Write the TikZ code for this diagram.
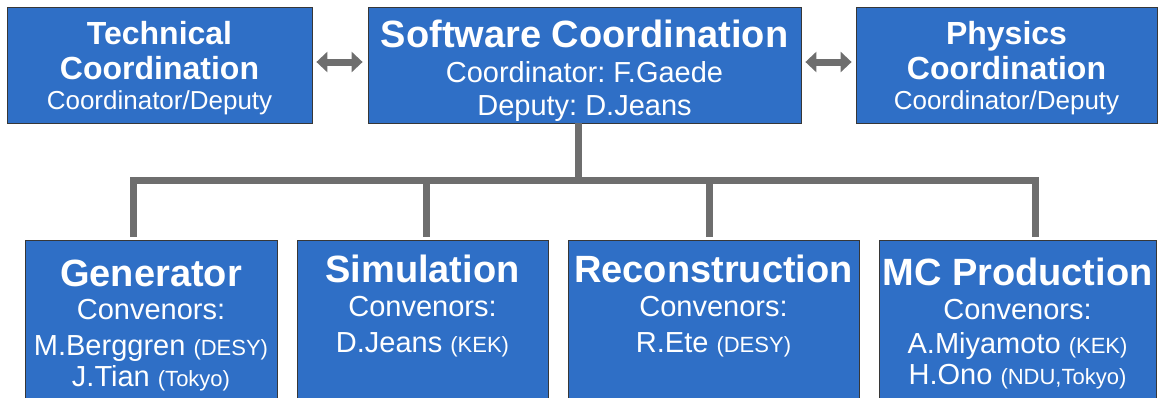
\documentclass[tikz,border=0pt]{standalone}
\usepackage{fontspec}
\setmainfont{Liberation Sans}
\usetikzlibrary{arrows.meta}
\definecolor{boxblue}{RGB}{47,111,198}
\definecolor{linegray}{RGB}{110,110,110}
\definecolor{boxedge}{RGB}{55,55,55}
\newcommand\aff[1]{{\fontsize{22}{24}\selectfont #1}}
\frenchspacing
\begin{document}
\begin{tikzpicture}[x=1pt,y=-1pt,
  box/.style={draw=boxedge, line width=0.8pt, fill=boxblue, inner sep=0pt},
  txt/.style={anchor=base, text=white, inner sep=0pt},
  ttl/.style={txt, font=\bfseries\fontsize{38}{40}\selectfont},
  ttls/.style={txt, font=\bfseries\fontsize{32}{34}\selectfont},
  sub/.style={txt, font=\fontsize{29}{31}\selectfont},
  subs/.style={txt, font=\fontsize{26}{28}\selectfont},
  conn/.style={draw=linegray, line width=7pt, line join=miter},
  dbl/.style={draw=linegray, line width=7pt,
    {Triangle[length=11pt 0 1,width=20pt 0 1]}-{Triangle[length=11pt 0 1,width=20pt 0 1]}}
]
\useasboundingbox (0,0) rectangle (1158,397);
\clip (0,0) rectangle (1158,397);

% top boxes
\node[box, minimum width=305pt, minimum height=116pt] (tech) at (159.5,65) {};
\node[box, minimum width=433pt, minimum height=116pt] (sw) at (584.5,65) {};
\node[box, minimum width=301pt, minimum height=116pt] (phys) at (1006.5,65) {};

% bottom boxes
\node[box, minimum width=252pt, minimum height=162pt] (gen) at (151,321) {};
\node[box, minimum width=251pt, minimum height=162pt] (sim) at (422.5,321) {};
\node[box, minimum width=291pt, minimum height=162pt] (rec) at (713.5,321) {};
\node[box, minimum width=277pt, minimum height=162pt] (mc) at (1017.5,321) {};

% top texts
\node[ttls] (tech1) at (159.5,44) {Technical};
\node[ttls] (tech2) at (159.5,79) {Coordination};
\node[subs] (tech3) at (159.5,109) {Coordinator/Deputy};

\node[ttl] (sw1) at (584.5,47) {Software Coordination};
\node[sub] (sw2) at (584.5,82) {Coordinator: F.Gaede};
\node[sub] (sw3) at (584.5,115) {Deputy: D.Jeans};

\node[ttls] (ph1) at (1006.5,44) {Physics};
\node[ttls] (ph2) at (1006.5,79) {Coordination};
\node[subs] (ph3) at (1006.5,109) {Coordinator/Deputy};

% bottom texts
\node[ttl] (gen1) at (151,286) {Generator};
\node[sub] (gen2) at (151,319) {Convenors:};
\node[sub] (gen3) at (151,355) {M.Berggren \aff{(DESY)}};
\node[sub] (gen4) at (151,386) {J.Tian \aff{(Tokyo)}};

\node[ttl] (sim1) at (422.5,282) {Simulation};
\node[sub] (sim2) at (422.5,316) {Convenors:};
\node[sub] (sim3) at (422.5,352) {D.Jeans \aff{(KEK)}};

\node[ttl] (rec1) at (713.5,282) {Reconstruction};
\node[sub] (rec2) at (713.5,316) {Convenors:};
\node[sub] (rec3) at (713.5,352) {R.Ete \aff{(DESY)}};

\node[ttl] (mc1) at (1017.5,285) {MC Production};
\node[sub] (mc2) at (1017.5,319) {Convenors:};
\node[sub] (mc3) at (1017.5,353) {A.Miyamoto \aff{(KEK)}};
\node[sub] (mc4) at (1017.5,384) {H.Ono \aff{(NDU,Tokyo)}};

% double arrows
\draw[dbl, shorten <=4pt, shorten >=5pt] (tech.east |- 0,62) -- (sw.west |- 0,62);
\draw[dbl, shorten <=4pt, shorten >=4pt] (sw.east |- 0,62) -- (phys.west |- 0,62);

% tree connectors
\coordinate (busL) at (133.5,180.5);
\coordinate (busR) at (1035.5,180.5);
\coordinate (trunk) at (578,180.5);
\coordinate (dsim) at (426,180.5);
\coordinate (drec) at (709,180.5);
\draw[conn] (sw.south -| trunk) -- (trunk);
\draw[conn, shorten <=3pt, shorten >=3pt] (gen.north -| busL) -- (busL) -- (busR) -- (mc.north -| busR);
\draw[conn, shorten >=3pt] (dsim) -- (sim.north -| dsim);
\draw[conn, shorten >=3pt] (drec) -- (rec.north -| drec);
\end{tikzpicture}
\end{document}
